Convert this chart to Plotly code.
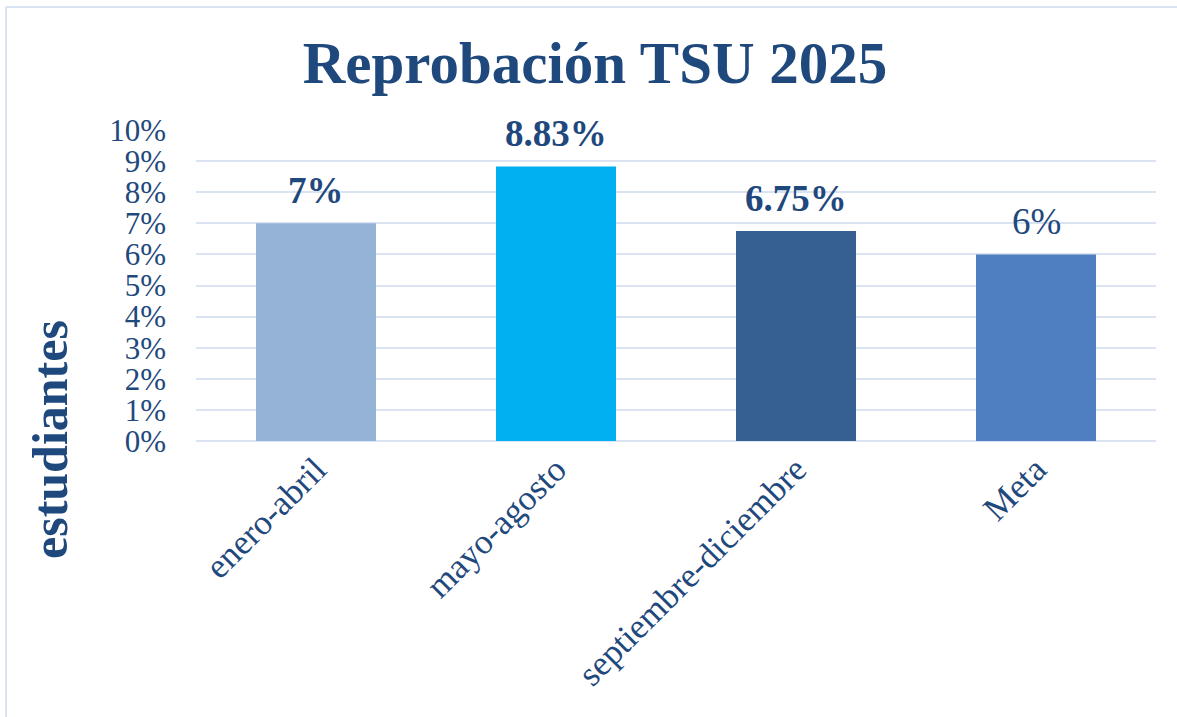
import plotly.graph_objects as go

categories = ["enero-abril", "mayo-agosto", "septiembre-diciembre", "Meta"]
values = [0.07, 0.0883, 0.0675, 0.06]
labels = ["7%", "8.83%", "6.75%", "6%"]
label_bold = [True, True, True, False]
bar_colors = ["#95B3D7", "#00B0F0", "#376092", "#4F7FC0"]
y_ticks = [i / 100 for i in range(0, 11)]
y_tick_text = [f"{i}%" for i in range(0, 11)]

TXT = "#1F497D"
FONT = "Liberation Serif"
GRID = "#D9E3F2"

W, H = 1177, 717
L, R, T, B = 196, 1156, 130, 441

fig = go.Figure()
fig.add_trace(go.Bar(
    x=categories, y=values, marker=dict(color=bar_colors, line=dict(width=0)),
    width=0.5, hoverinfo="skip", showlegend=False,
))

for c, v, t, b in zip(categories, values, labels, label_bold):
    fig.add_annotation(
        x=c, y=v, xref="x", yref="y", text=f"<b>{t}</b>" if b else t,
        showarrow=False, yanchor="bottom", yshift=10,
        font=dict(family=FONT, size=37, color=TXT),
    )

fig.add_annotation(
    xref="paper", yref="paper", x=(50 - L) / (R - L), y=(B - 440) / (B - T),
    text="<b>estudiantes</b>", textangle=-90, showarrow=False,
    xanchor="center", yanchor="middle",
    font=dict(family=FONT, size=50, color=TXT),
)

# chart frame (top and left edges)
fx0 = (6 - L) / (R - L)
fx1 = (W + 5 - L) / (R - L)
fy0 = (B - (H + 5)) / (B - T)
fy1 = (B - 7) / (B - T)
fig.add_shape(type="line", xref="paper", yref="paper", x0=fx0, x1=fx1, y0=fy1, y1=fy1,
              line=dict(color=GRID, width=2))
fig.add_shape(type="line", xref="paper", yref="paper", x0=fx0, x1=fx0, y0=fy0, y1=fy1,
              line=dict(color=GRID, width=2))

fig.update_layout(
    width=W, height=H,
    margin=dict(l=L, r=W - R, t=T, b=H - B, pad=0),
    paper_bgcolor="white", plot_bgcolor="white",
    title=dict(text="<b>Reprobación TSU 2025</b>", x=595 / W, xref="container", xanchor="center",
               y=1 - 62 / H, yref="container", yanchor="middle",
               font=dict(family=FONT, size=59, color=TXT)),
    bargap=0.5,
    xaxis=dict(showgrid=False, showline=False, zeroline=False, tickangle=-45,
               tickfont=dict(family=FONT, size=35, color=TXT), ticks="", fixedrange=True),
    yaxis=dict(range=[0, 0.1], tickvals=y_ticks, ticktext=y_tick_text,
               showgrid=True, gridcolor=GRID, gridwidth=2, zeroline=True, zerolinecolor=GRID,
               zerolinewidth=2, showline=False, ticks="", ticklabelstandoff=29,
               tickfont=dict(family=FONT, size=31, color=TXT), fixedrange=True),
)

fig.write_html("out.html", config={"displayModeBar": False},
               post_script="document.body.style.margin='0';document.body.style.overflow='hidden';")
